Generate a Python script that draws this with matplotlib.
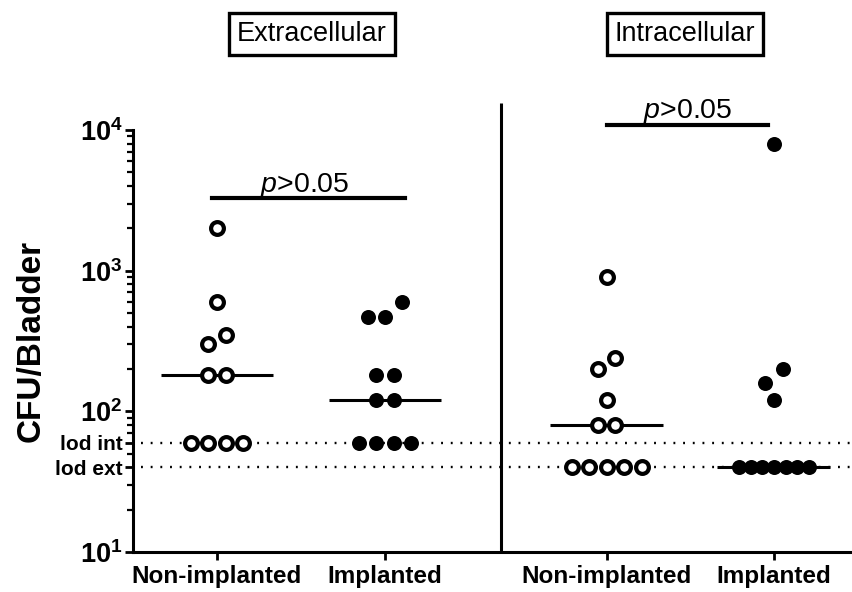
import numpy as np
import matplotlib
matplotlib.use("Agg")
import matplotlib.pyplot as plt
from matplotlib.ticker import FixedLocator, LogLocator, NullFormatter

# CFU per bladder
ext_non = [2000, 600, 350, 300, 180, 180, 60, 60, 60, 60]
ext_imp = [600, 470, 470, 180, 180, 120, 120, 60, 60, 60, 60]
int_non = [900, 240, 200, 120, 80, 80, 40, 40, 40, 40, 40]
int_imp = [8000, 200, 160, 120, 40, 40, 40, 40, 40, 40, 40]

groups = ["Non-implanted", "Implanted", "Non-implanted", "Implanted"]
panels = ["Extracellular", "Intracellular"]
lod_int, lod_ext = 60, 40
p_text = "$\\mathit{p}$>0.05"

plt.rcParams["font.family"] = ["Liberation Sans", "DejaVu Sans"]
plt.rcParams["mathtext.fontset"] = "custom"
plt.rcParams["mathtext.rm"] = "Liberation Sans"
plt.rcParams["mathtext.it"] = "Liberation Sans:italic"
plt.rcParams["mathtext.bf"] = "Liberation Sans:bold"


def swarm(vals, center, d, thresh=0.11, maxspan=4):
    # spread near-equal values sideways like a column scatter
    v = np.sort(np.asarray(vals, float))
    lv = np.log10(v)
    xs = np.empty_like(v)
    i = 0
    while i < len(v):
        j = i + 1
        while j < len(v) and lv[j] - lv[j - 1] < thresh:
            j += 1
        n = j - i
        step = d if n - 1 <= maxspan else d * maxspan / (n - 1)
        xs[i:j] = center + (np.arange(n) - (n - 1) / 2) * step
        i = j
    return xs, v


fig = plt.figure(figsize=(8.53, 5.92), dpi=100)
ax = fig.add_axes([133 / 853, 1 - 552 / 592, 720 / 853, 422 / 592])
ax.set_yscale("log")
ax.set_ylim(10, 1e4)
ax.set_xlim(0, 4.286)

pos = [0.5, 1.5, 2.82, 3.815]
d = 0.104
series = [ext_non, ext_imp, int_non, int_imp]
filled = [False, True, False, True]

for x0, vals, f in zip(pos, series, filled):
    xs, v = swarm(vals, x0, d)
    med = np.median(vals)
    ax.plot([x0 - 0.336, x0 + 0.336], [med, med], color="black", lw=2.2, zorder=3,
            solid_capstyle="butt")
    if f:
        ax.plot(xs, v, "o", color="black", ms=10.8, mew=0, zorder=4, clip_on=False)
    else:
        ax.plot(xs, v, "o", mfc="white", mec="black", ms=9.2, mew=3.0, zorder=4,
                clip_on=False)

# limits of detection
for lv in (lod_int, lod_ext):
    ax.plot([0.05, 4.286], [lv, lv], color="black", lw=1.7, ls=(0, (0.8, 3.3)),
            zorder=2, clip_on=False)

# panel divider
ax.plot([2.19, 2.19], [10, 10 ** 4.19], color="black", lw=2.2, clip_on=False,
        solid_capstyle="butt")

# significance bars
ax.plot([0.47, 1.62], [3300, 3300], color="black", lw=3, clip_on=False)
ax.text(1.02, 3650, p_text, ha="center", va="baseline", fontsize=20.5)
ax.plot([2.82, 3.78], [10800, 10800], color="black", lw=3, clip_on=False)
ax.text(3.30, 12100, p_text, ha="center", va="baseline", fontsize=20.5)

# panel titles
for xc, name in zip([312, 685], panels):
    fig.text(xc / 853, 1 - 34 / 592, name, ha="center", va="center", fontsize=19.5,
             bbox=dict(boxstyle="square,pad=0.3", fc="white", ec="black", lw=2.4))

# axes styling
for s in ["top", "right"]:
    ax.spines[s].set_visible(False)
ax.spines["left"].set_linewidth(2.2)
ax.spines["bottom"].set_linewidth(2.2)

ax.yaxis.set_major_locator(FixedLocator([10, 100, 1000, 10000, lod_int, lod_ext]))
ax.set_yticklabels(["$\\mathbf{10^{1}}$", "$\\mathbf{10^{2}}$", "$\\mathbf{10^{3}}$",
                    "$\\mathbf{10^{4}}$", "lod int", "lod ext"])
for lab in ax.get_yticklabels():
    if lab.get_text().startswith("lod"):
        lab.set_fontsize(15)
        lab.set_fontweight("bold")
    else:
        lab.set_fontsize(19.5)
ax.yaxis.set_minor_locator(LogLocator(base=10, subs=np.arange(2, 10)))
ax.yaxis.set_minor_formatter(NullFormatter())
ax.tick_params(axis="y", which="major", length=6, width=2, pad=1.5)
ax.tick_params(axis="y", which="minor", length=4, width=1.6)

ax.set_xticks(pos)
ax.set_xticklabels(groups, fontsize=17.5, fontweight="bold")
ax.tick_params(axis="x", which="major", length=6, width=2, pad=3)

ax.set_ylabel("CFU/Bladder", fontsize=24, fontweight="bold", labelpad=6)

fig.savefig("out.png", dpi=100)
